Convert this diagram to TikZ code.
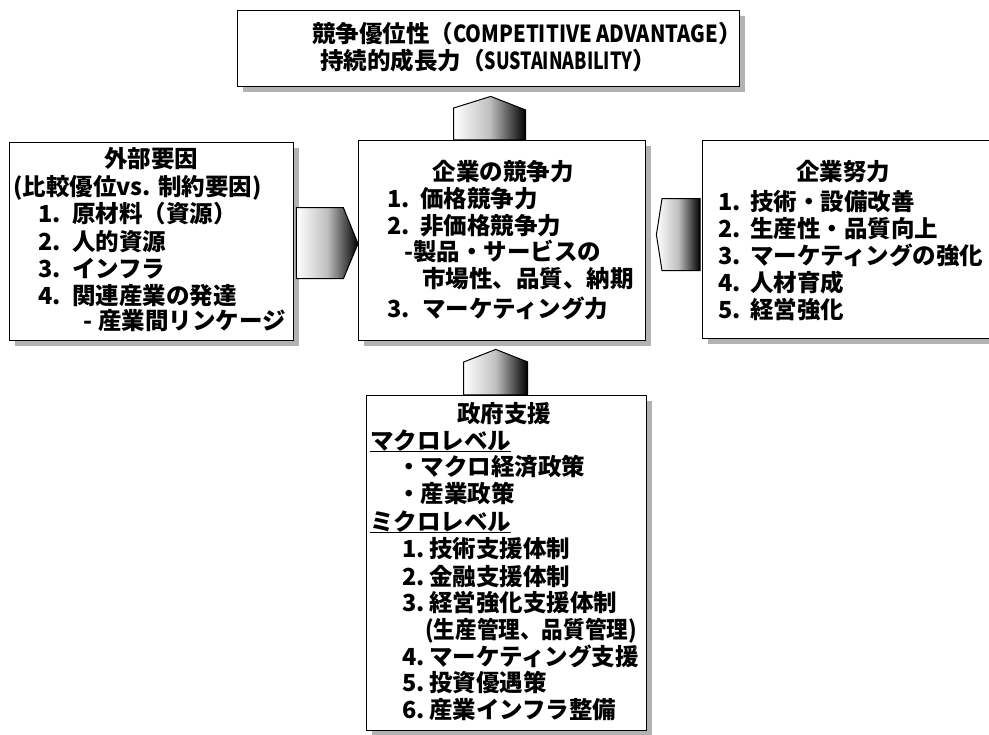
\documentclass[tikz,border=0pt]{standalone}
\usepackage{fontspec}
\setmainfont{Noto Sans CJK JP}
\usetikzlibrary{calc,shadows}
\begin{document}
\begin{tikzpicture}[x=1pt,y=-1pt,
  box/.style={draw=black, line width=1.4pt, fill=white, anchor=north west, inner sep=0,
    drop shadow={shadow xshift=5pt, shadow yshift=-5pt, fill=gray!60, opacity=1}},
  txt/.style={anchor=base west, inner sep=0, font=\fontsize{23.5pt}{27pt}\selectfont\bfseries},
  ctxt/.style={anchor=base, inner sep=0, font=\fontsize{23.5pt}{27pt}\selectfont\bfseries},
  blockarrow/.style={draw=black, line width=1pt, left color=white, right color=black, middle color=gray!50},
  ul/.style={draw=black, line width=1pt}]
\clip (0,0) rectangle (989,735);
\fill[white] (0,0) rectangle (989,735);
% boxes
\node[box, minimum width=502pt, minimum height=76pt] (top) at (237,10) {};
\node[box, minimum width=284pt, minimum height=198pt] (left) at (9,142) {};
\node[box, minimum width=287pt, minimum height=200pt] (mid) at (358,140) {};
\node[box, minimum width=298pt, minimum height=198pt] (right) at (702,140) {};
\node[box, minimum width=280pt, minimum height=335pt] (gov) at (366,395) {};
\newcommand{\nb}[2]{\makebox[#1][l]{#2}}
% top text
\node[txt] (t1) at (312,43) {競争優位性（\scalebox{0.86}[1]{COMPETITIVE ADVANTAGE}）};
\node[txt] (t2) at (320,70) {持続的成長力（\scalebox{0.76}[1]{SUSTAINABILITY}）};
% left text
\node[ctxt] (l0) at (151,168) {外部要因};
\node[txt] (l1) at (13,196) {(比較優位vs. 制約要因)};
\node[txt] (l2) at (38,223) {\nb{34pt}{1.}原材料（資源）};
\node[txt] (l3) at (38,251) {\nb{34pt}{2.}人的資源};
\node[txt] (l4) at (38,278) {\nb{34pt}{3.}インフラ};
\node[txt] (l5) at (38,305) {\nb{34pt}{4.}関連産業の発達};
\node[txt] (l6) at (83,330) {\nb{15pt}{-}産業間リンケージ};
% middle text
\node[ctxt] (m0) at (503,181) {企業の競争力};
\node[txt] (m1) at (387,208) {\nb{33pt}{1.}価格競争力};
\node[txt] (m2) at (387,235) {\nb{33pt}{2.}非価格競争力};
\node[txt] (m3) at (404,261) {-製品・サービスの};
\node[txt] (m4) at (422,288) {市場性、品質、納期};
\node[txt] (m5) at (387,318) {\nb{35pt}{3.}マーケティング力};
% right text
\node[ctxt] (r0) at (843,181) {企業努力};
\node[txt] (r1) at (718,211) {\nb{32pt}{1.}技術・設備改善};
\node[txt] (r2) at (718,238) {\nb{32pt}{2.}生産性・品質向上};
\node[txt] (r3) at (718,265) {\nb{32pt}{3.}マーケティングの強化};
\node[txt] (r4) at (718,292) {\nb{32pt}{4.}人材育成};
\node[txt] (r5) at (718,319) {\nb{32pt}{5.}経営強化};
% government text
\node[ctxt] (g0) at (504,423) {政府支援};
\node[txt] (g1) at (370,450) {マクロレベル};
\node[txt] (g2) at (397,476) {・マクロ経済政策};
\node[txt] (g3) at (397,503) {・産業政策};
\node[txt] (g4) at (370,530) {ミクロレベル};
\node[txt] (g5) at (402,558) {\nb{27pt}{1.}技術支援体制};
\node[txt] (g6) at (402,585) {\nb{27pt}{2.}金融支援体制};
\node[txt] (g7) at (402,611) {\nb{27pt}{3.}経営強化支援体制};
\node[txt] (g8) at (425,638) {\scalebox{0.92}[1]{(生産管理、品質管理)}};
\node[txt] (g9) at (402,665) {\nb{27pt}{4.}マーケティング支援};
\node[txt] (g10) at (402,691) {\nb{27pt}{5.}投資優遇策};
\node[txt] (g11) at (402,718) {\nb{27pt}{6.}産業インフラ整備};
\draw[ul] ($(g1.base west)+(0,2)$) -- ($(g1.base east)+(0,2)$);
\draw[ul] ($(g4.base west)+(0,2)$) -- ($(g4.base east)+(0,2)$);
% block arrows
% mid -> top
\draw[blockarrow] ($(mid.north)+(-48.5,0)$) -- ++(0,-32) -- ($(top.south)+(2,9)$) -- ($(mid.north)+(23.5,-30)$) -- ($(mid.north)+(23.5,0)$) -- cycle;
% gov -> mid
\draw[blockarrow] ($(gov.north)+(-43,0)$) -- ++(0,-33) -- ($(mid.south)+(-6.5,8)$) -- ($(gov.north)+(21,-33)$) -- ($(gov.north)+(21,0)$) -- cycle;
% left -> mid
\draw[blockarrow] ($(left.east)+(2,-34)$) -- ($(left.east)+(49,-34)$) -- ($(mid.west)+(0,3)$) -- ($(left.east)+(49,37)$) -- ($(left.east)+(2,37)$) -- cycle;
% right -> mid
\draw[blockarrow] ($(right.west)+(-2,-41)$) -- ($(right.west)+(-40,-41)$) -- ($(mid.east)+(10,-6)$) -- ($(right.west)+(-40,31)$) -- ($(right.west)+(-2,31)$) -- cycle;
\end{tikzpicture}
\end{document}
